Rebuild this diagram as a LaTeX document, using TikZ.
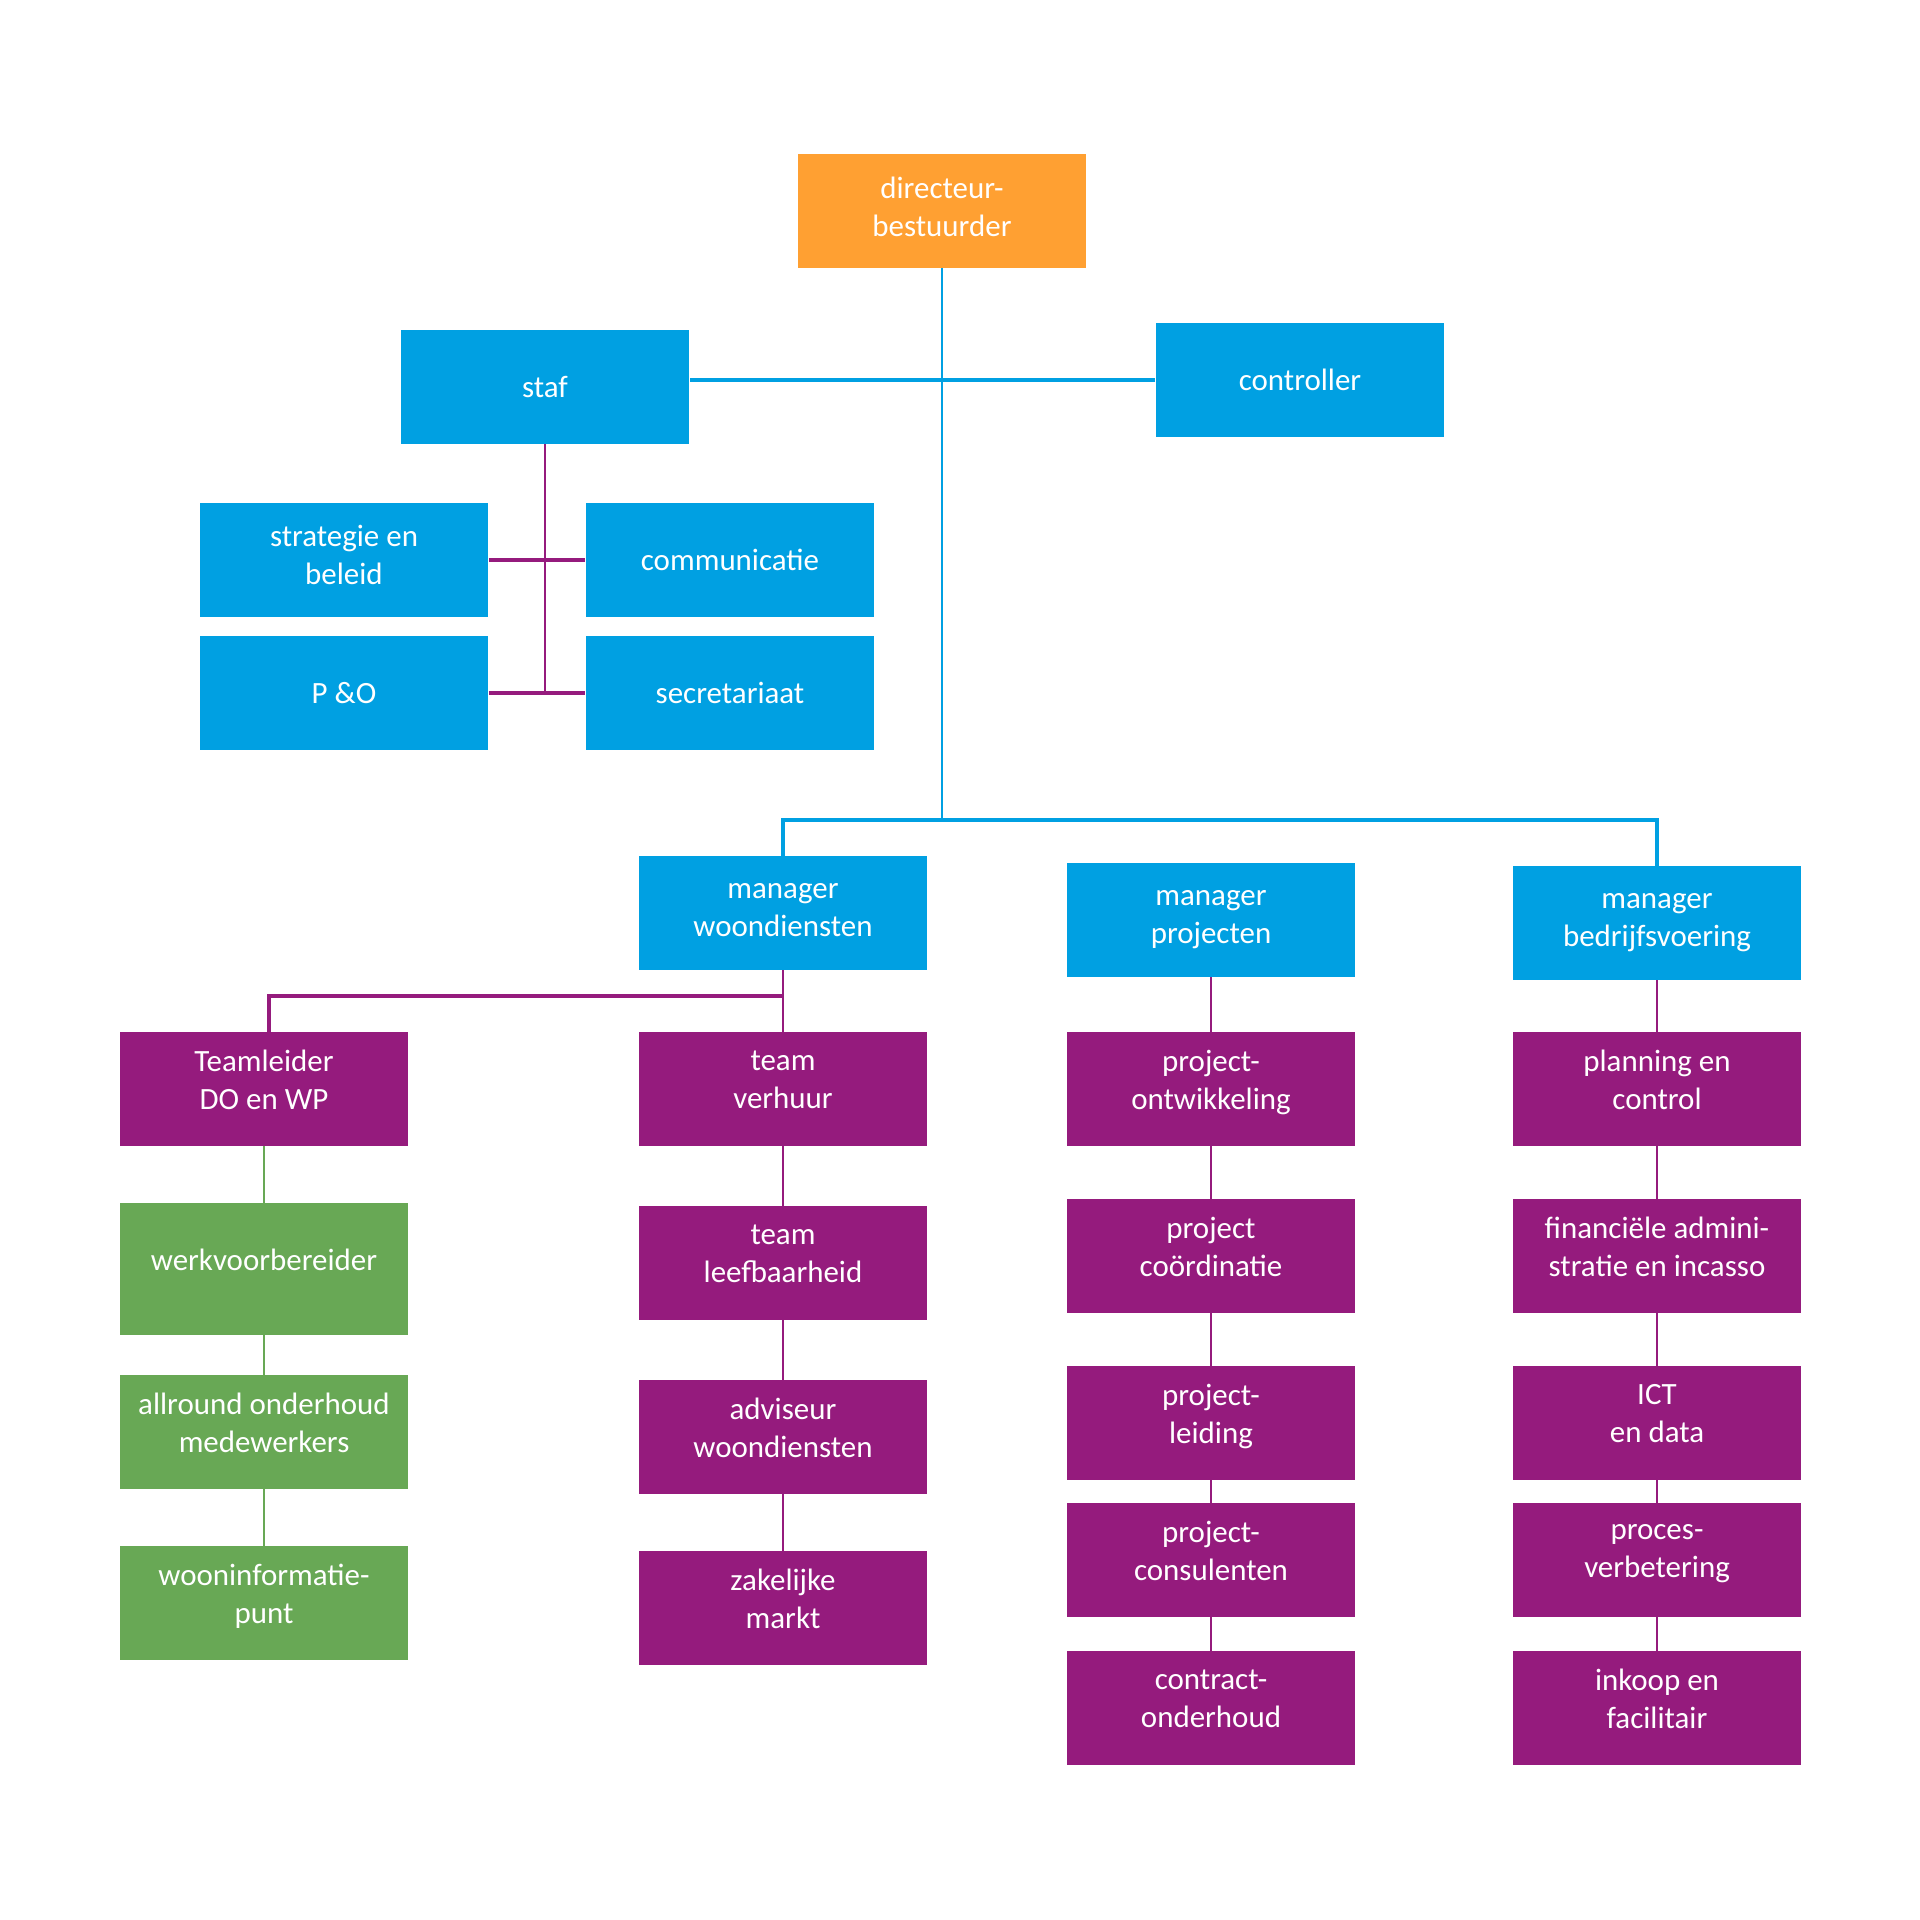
\documentclass[tikz,border=0pt]{standalone}
\usepackage{fontspec}
\setmainfont{Carlito}
\usepackage{tikz}
\definecolor{orgorange}{HTML}{FFA032}
\definecolor{orgblue}{HTML}{00A0E2}
\definecolor{orgpurple}{HTML}{951B7D}
\definecolor{orggreen}{HTML}{68A855}
\def\colA{264}
\def\colB{783}
\def\colC{1211}
\def\colD{1657}

\tikzset{
    unit/.style={rectangle, fill=#1, text=white, align=center, inner sep=0pt,
        minimum width=2.88cm, minimum height=1.13cm,
        font=\fontsize{8.8}{10.8}\selectfont},
    lift/.style={execute at end node={\rule[-#1]{0pt}{0pt}}},
    lift/.default=5.2pt,
    blueline/.style={draw=orgblue, line width=0.8pt},
    purpleline/.style={draw=orgpurple, line width=0.8pt},
    greenline/.style={draw=orggreen, line width=0.8pt}
}

\begin{document}
\begin{tikzpicture}[x=0.01cm, y=-0.01cm]
            \useasboundingbox[fill=white] (0, 0) rectangle (1920, 1920);

            \node[unit=orgorange, lift=2.4pt] (dir) at (942, 211) {directeur-\\bestuurder};
            \node[unit=orgblue] (staf) at (545, 387) {staf};
            \node[unit=orgblue] (contr) at (1300, 380) {controller};

            \node[unit=orgblue, lift=3.2pt] (strat) at (344, 560) {strategie en\\beleid};
            \node[unit=orgblue] (comm) at (730, 560) {communicatie};
            \node[unit=orgblue] (po) at (344, 693) {P \&O};
            \node[unit=orgblue] (secr) at (730, 693) {secretariaat};

            \node[unit=orgblue, lift=1.8pt] (mwd) at (\colB, 913) {manager\\woondiensten};
            \node[unit=orgblue, lift=1.8pt] (mproj) at (\colC, 920) {manager\\projecten};
            \node[unit=orgblue, lift=1.8pt] (mbv) at (\colD, 923) {manager\\bedrijfsvoering};

            \node[unit=orgpurple, lift] (tl) at (\colA, 1089) {Teamleider\\DO en WP};
            \node[unit=orggreen, lift, minimum height=1.31cm] (wvb) at (\colA, 1269) {werkvoorbereider};
            \node[unit=orggreen, lift] (aom) at (\colA, 1432) {allround onderhoud\\medewerkers};
            \node[unit=orggreen, lift] (wip) at (\colA, 1603) {wooninformatie-\\punt};

            \node[unit=orgpurple, lift] (tv) at (\colB, 1089) {team\\verhuur};
            \node[unit=orgpurple, lift] (tlb) at (\colB, 1263) {team\\leefbaarheid};
            \node[unit=orgpurple, lift] (awd) at (\colB, 1437) {adviseur\\woondiensten};
            \node[unit=orgpurple, lift] (zm) at (\colB, 1608) {zakelijke\\markt};

            \node[unit=orgpurple, lift] (pont) at (\colC, 1089) {project-\\ontwikkeling};
            \node[unit=orgpurple, lift] (pcoo) at (\colC, 1256) {project\\coördinatie};
            \node[unit=orgpurple, lift] (plei) at (\colC, 1423) {project-\\leiding};
            \node[unit=orgpurple, lift] (pcon) at (\colC, 1560) {project-\\consulenten};
            \node[unit=orgpurple, lift] (cond) at (\colC, 1708) {contract-\\onderhoud};

            \node[unit=orgpurple, lift] (pc) at (\colD, 1089) {planning en\\control};
            \node[unit=orgpurple, lift] (fin) at (\colD, 1256) {financiële admini-\\stratie en incasso};
            \node[unit=orgpurple, lift] (ict) at (\colD, 1423) {ICT\\en data};
            \node[unit=orgpurple, lift] (pv) at (\colD, 1560) {proces-\\verbetering};
            \node[unit=orgpurple, lift] (ikf) at (\colD, 1708) {inkoop en\\facilitair};

            \coordinate (bus) at (942, 820);
            \coordinate (tlbend) at (783, 996);
            \coordinate (stafend) at (545, 693);

            \draw[blueline] (dir) -- (bus);
            \draw[blueline, line width=1.3pt] (contr.west) -- (contr.west -| staf.east);
            \draw[blueline, line width=1.1pt] (mwd.north) |- (bus) -| (mbv.north);

            \draw[purpleline] (staf) -- (stafend);
            \draw[purpleline, line width=1.1pt] (strat.east |- comm) -- (comm.west);
            \draw[purpleline, line width=1.1pt] (po) -- (secr);

            \draw[purpleline] (mwd) -- (tv);
            \draw[purpleline, line width=1.1pt] (tlbend) -| ([xshift=0.05cm]tl.north);
            \draw[purpleline] (tv) -- (tlb);
            \draw[purpleline] (tlb) -- (awd);
            \draw[purpleline] (awd) -- (zm);

            \draw[greenline] (tl) -- (wvb);
            \draw[greenline] (wvb) -- (aom);
            \draw[greenline] (aom) -- (wip);

            \draw[purpleline] (mproj) -- (pont);
            \draw[purpleline] (pont) -- (pcoo);
            \draw[purpleline] (pcoo) -- (plei);
            \draw[purpleline] (plei) -- (pcon);
            \draw[purpleline] (pcon) -- (cond);

            \draw[purpleline] (mbv) -- (pc);
            \draw[purpleline] (pc) -- (fin);
            \draw[purpleline] (fin) -- (ict);
            \draw[purpleline] (ict) -- (pv);
            \draw[purpleline] (pv) -- (ikf);
        \end{tikzpicture}
\end{document}
